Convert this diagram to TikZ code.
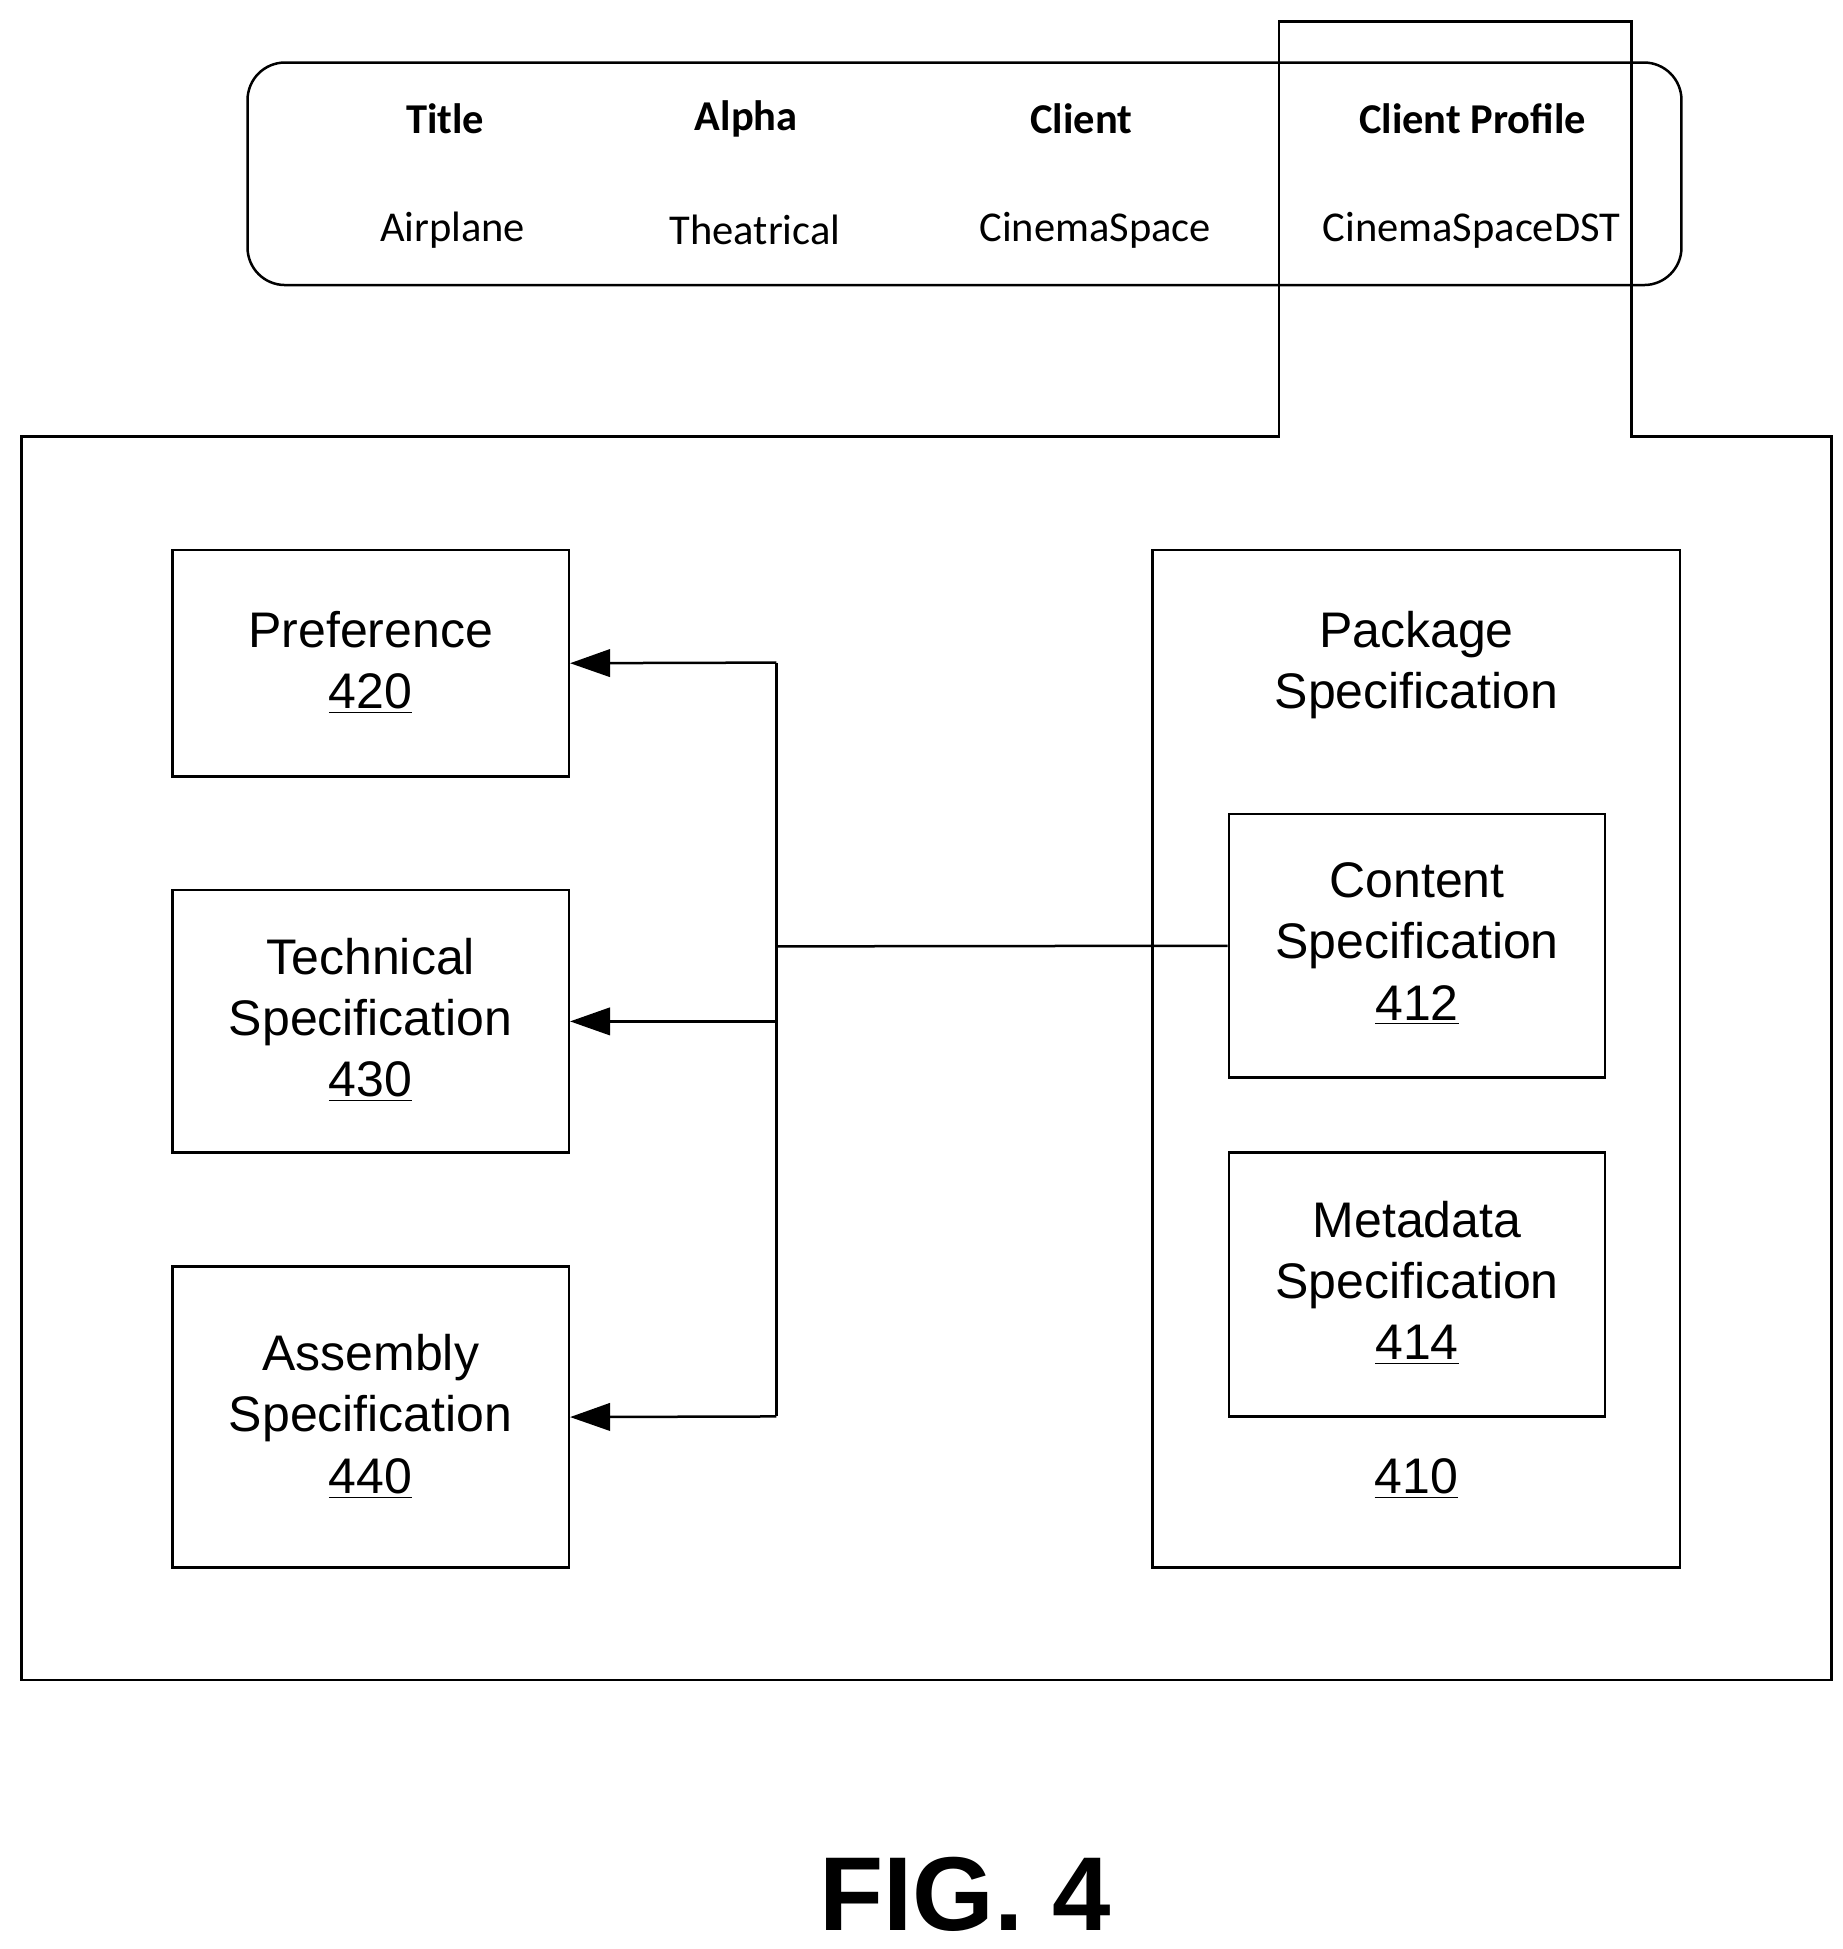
\documentclass[tikz,border=0pt]{standalone}
\usepackage{fontspec}
\setmainfont{Liberation Sans}
\newfontfamily\carlitofont{Carlito}
\usetikzlibrary{arrows.meta}
\begin{document}
\begin{tikzpicture}[x=0.5pt,y=-0.5pt,
  box/.style={draw,line width=1pt},
  lbl/.style={font=\fontsize{20}{24.5}\selectfont,align=center},
  hd/.style={font=\carlitofont\fontsize{17}{20}\selectfont\bfseries},
  vl/.style={font=\carlitofont\fontsize{17}{20}\selectfont},
  arr/.style={line width=1pt,-{Triangle[length=16pt,width=11pt]}}]
\useasboundingbox (0,0) rectangle (1474,1559);
\draw[line width=1pt,rounded corners=15pt] (198,50) rectangle (1345,228);
\draw[line width=1pt] (17,349) -- (1023,349) -- (1023,17) -- (1305,17) -- (1305,349) -- (1465,349) -- (1465,1344) -- (17,1344) -- cycle;
\node[hd] (h1) at (356,95) {Title};
\node[hd] (h2) at (597,95) {Alpha};
\node[hd] (h3) at (865,95) {Client};
\node[hd] (h4) at (1178,95) {Client Profile};
\node[vl] (v1) at (362,184) {Airplane};
\node[vl] (v2) at (604,184) {Theatrical};
\node[vl] (v3) at (876,184) {CinemaSpace};
\node[vl] (v4) at (1177,184) {CinemaSpaceDST};
\node[box,minimum width=158.5pt,minimum height=90.5pt] (pref) at (296.5,530.5) {};
\node[lbl] at (296.5,530) {Preference\\\underline{420}};
\node[box,minimum width=158.5pt,minimum height=105pt] (tech) at (296.5,817) {};
\node[lbl] at (296.5,816) {Technical\\Specification\\\underline{430}};
\node[box,minimum width=158.5pt,minimum height=120.5pt] (asm) at (296.5,1133.5) {};
\node[lbl] at (296.5,1133) {Assembly\\Specification\\\underline{440}};
\node[box,minimum width=211pt,minimum height=407pt] (pkg) at (1133,847) {};
\node[lbl] at (1133,532) {Package\\Specification};
\node[box,minimum width=150.5pt,minimum height=105.5pt] (cont) at (1133.5,756.5) {};
\node[lbl] at (1133.5,755) {Content\\Specification\\\underline{412}};
\node[box,minimum width=150.5pt,minimum height=105.5pt] (meta) at (1133.5,1027.5) {};
\node[lbl] at (1133.5,1026) {Metadata\\Specification\\\underline{414}};
\node[lbl] (n410) at (1133,1183) {\underline{410}};
\coordinate (j) at (621,757);
\coordinate (jt) at (621,530);
\coordinate (jb) at (621,1133);
\draw[line width=1pt] (cont.west) -- (j);
\draw[line width=1pt] (jt) -- (jb);
\draw[arr] (jt) -- (pref.east);
\draw[arr] (621,817) -- (tech.east);
\draw[arr] (jb) -- (asm.east);
\node[font=\fontsize{42}{44}\selectfont\bfseries] (fig) at (772,1515) {FIG. 4};
\end{tikzpicture}
\end{document}
